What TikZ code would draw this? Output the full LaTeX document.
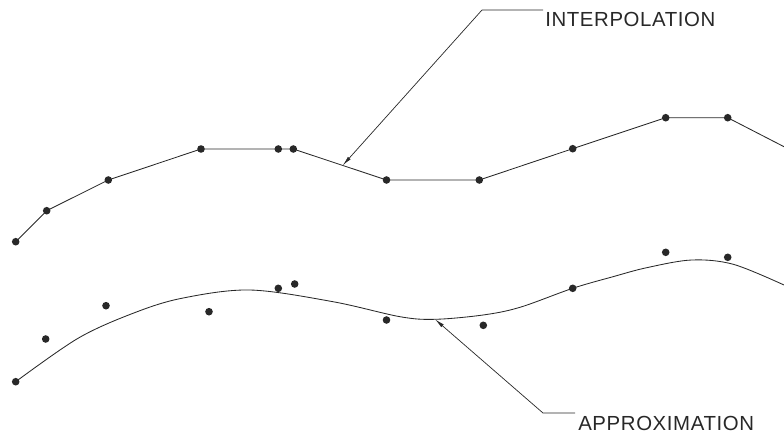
\documentclass[tikz,border=0pt]{standalone}
\usepackage{fontspec}
\setmainfont{Liberation Sans}
\newfontfamily\lblfont[LetterSpace=3]{Liberation Sans}
\usetikzlibrary{arrows.meta,calc}
\definecolor{inkGrey}{RGB}{40,40,40}
\tikzset{
    dot/.style={circle,fill=inkGrey,draw=none,inner sep=0pt,minimum size=5.4pt},
    poly/.style={draw=inkGrey,line width=0.6pt,line join=round},
    lead/.style={draw=inkGrey,line width=0.5pt,-{Latex[length=7pt,width=2.6pt]}},
    tag/.style={inner sep=0pt,text=inkGrey,font=\lblfont\fontsize{14.5pt}{16pt}\selectfont}
}
\begin{document}
\begin{tikzpicture}[x=0.025cm,y=-0.025cm]
    \useasboundingbox (0,0) rectangle (784,435);
    % interpolation points
    \node[dot] (i1)  at ( 15.7,241.7) {};
    \node[dot] (i2)  at ( 46.7,210.7) {};
    \node[dot] (i3)  at (108.3,180.0) {};
    \node[dot] (i4)  at (201.0,149.0) {};
    \node[dot] (i5)  at (278.3,149.0) {};
    \node[dot] (i6)  at (293.3,149.0) {};
    \node[dot] (i7)  at (386.5,180.0) {};
    \node[dot] (i8)  at (479.3,180.0) {};
    \node[dot] (i9)  at (572.7,148.7) {};
    \node[dot] (i10) at (665.7,117.7) {};
    \node[dot] (i11) at (727.7,117.7) {};
    \coordinate (iend) at (784,146.7);
    \draw[poly] (i1.center) -- (i2.center) -- (i3.center) -- (i4.center) -- (i5.center) -- (i6.center)
        -- (i7.center) -- (i8.center) -- (i9.center) -- (i10.center) -- (i11.center) -- (iend);

    % approximation points
    \node[dot] (a1)  at ( 15.7,381.7) {};
    \node[dot] (a2)  at ( 45.7,339.0) {};
    \node[dot] (a3)  at (106.0,305.7) {};
    \node[dot] (a4)  at (209.0,311.7) {};
    \node[dot] (a5)  at (278.3,288.3) {};
    \node[dot] (a6)  at (294.7,284.0) {};
    \node[dot] (a7)  at (386.5,320.0) {};
    \node[dot] (a8)  at (483.3,325.3) {};
    \node[dot] (a9)  at (572.7,288.3) {};
    \node[dot] (a10) at (665.7,252.3) {};
    \node[dot] (a11) at (727.7,257.3) {};
    \coordinate (atip) at (435,319.3);
    \draw[poly] plot[smooth,tension=0.55] coordinates {(15.7,381.7) (78,338.3) (133,313.3)
        (181.7,298.3) (250,290) (333,301.7) (400,316.7) (435,319.3) (483,315)
        (520,307.3) (572.7,288.3) (613,276.7) (646.7,267.7) (691.7,260) (733.3,264.3) (784,285)};

    % labels
    \node[tag,anchor=base west] (interp) at (545,26) {INTERPOLATION};
    \node[tag,anchor=base west] (approx) at (578,430) {APPROXIMATION};
    \coordinate (icorner) at (543,10);
    \coordinate (ibend)   at (482,10);
    \coordinate (acorner) at (575,413);
    \coordinate (abend)   at (543,413);
    \draw[lead] (icorner) -- (ibend) -- ($(i6)!0.53!(i7)$);
    \draw[lead] (acorner) -- (abend) -- (atip);
\end{tikzpicture}
\end{document}
